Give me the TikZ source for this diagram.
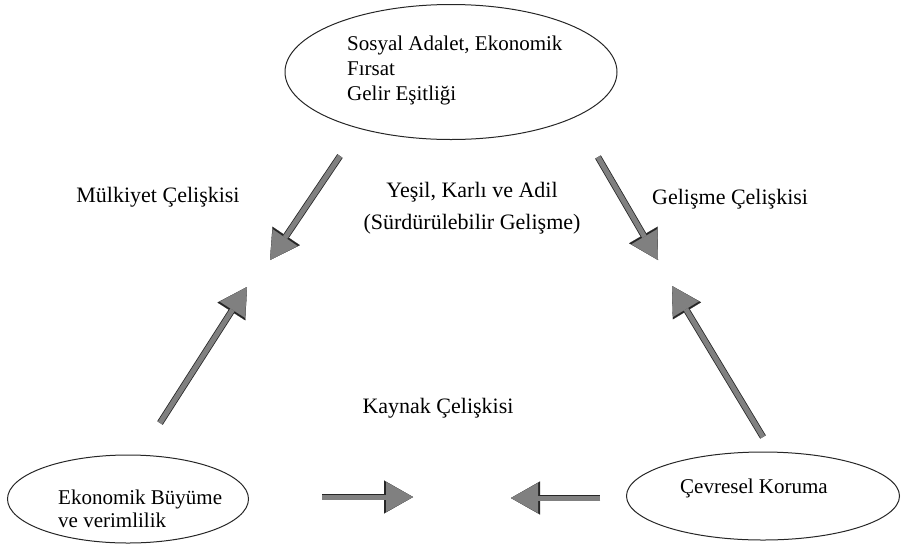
\documentclass[tikz,border=0pt]{standalone}
\usepackage{fontspec}
\setmainfont{Liberation Serif}
\usetikzlibrary{shapes.geometric,arrows.meta}

\tikzset{
  elips/.style={ellipse, draw=black!85, line width=1pt, inner sep=0pt},
  yazi/.style={inner sep=0pt, align=left, anchor=north west, font=\fontsize{21}{25}\selectfont},
  baslik/.style={inner sep=0pt, align=center, font=\fontsize{22}{32}\selectfont},
  ok/.style={line width=5pt, draw=black!50,
    -{Triangle[length=27pt,width=30pt,line width=0.1pt]},
    preaction={draw=black!85, line width=6.6pt, -{Triangle[length=29pt,width=33pt,line width=0.1pt]}}},
}

\begin{document}
\begin{tikzpicture}[x=1pt, y=-1pt]
\useasboundingbox (0,0) rectangle (905,547);

% Elipsler
\node[elips, minimum width=332pt, minimum height=135pt] (adalet) at (451,72) {};
\node[elips, minimum width=241pt, minimum height=88pt] (buyume) at (128,499) {};
\node[elips, minimum width=273pt, minimum height=88pt] (koruma) at (763,496) {};

% Elips yazilari
\node[yazi] (tadalet) at (347,36) {Sosyal Adalet, Ekonomik\\Fırsat\\Gelir Eşitliği};
\node[yazi, font=\fontsize{21}{23}\selectfont] (tbuyume) at (58,490) {Ekonomik Büyüme\\ve verimlilik};
\node[yazi] (tkoruma) at (680,479) {Çevresel Koruma};

% Celiskiler
\node[baslik, anchor=base] (mulkiyet) at (158,202) {Mülkiyet Çelişkisi};
\node[baslik, anchor=north] (yesil) at (472,182) {Yeşil, Karlı ve Adil\\(Sürdürülebilir Gelişme)};
\node[baslik, anchor=base west] (gelisme) at (652,204) {Gelişme Çelişkisi};
\node[baslik, anchor=base] (kaynak) at (438,413) {Kaynak Çelişkisi};

% Oklar
\coordinate (ok1s) at (340,156);
\coordinate (ok1u) at (270,260);
\coordinate (ok2s) at (598,157);
\coordinate (ok2u) at (658,260);
\coordinate (ok3s) at (160,423);
\coordinate (ok3u) at (247,287);
\coordinate (ok4s) at (763,437);
\coordinate (ok4u) at (672,286);
\coordinate (ok5s) at (322,497);
\coordinate (ok5u) at (413,497);
\coordinate (ok6s) at (600,498);
\coordinate (ok6u) at (511,498);

\draw[ok] (ok1s) -- (ok1u);
\draw[ok] (ok2s) -- (ok2u);
\draw[ok] (ok3s) -- (ok3u);
\draw[ok] (ok4s) -- (ok4u);
\draw[ok] (ok5s) -- (ok5u);
\draw[ok] (ok6s) -- (ok6u);

\end{tikzpicture}
\end{document}
